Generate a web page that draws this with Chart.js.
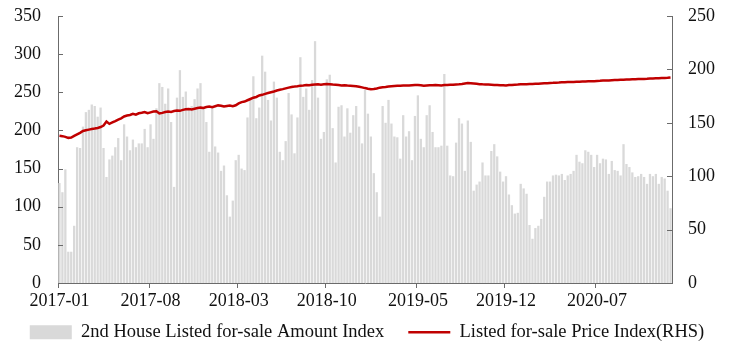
<!DOCTYPE html>
<html>
<head>
<meta charset="utf-8">
<script src="https://cdn.jsdelivr.net/npm/chart.js@4.4.1/dist/chart.umd.min.js"></script>
<style>
  body { margin: 0; background: #fff; }
</style>
</head>
<body>
<canvas id="listing_chart" width="734" height="351"></canvas>
<script>
// weekly series, first week 2017-01-02
const startDate = '2017-01-02';

const amountIndex = [
  131, 119, 149, 41, 41, 75, 178, 177, 205, 224, 227, 234, 232, 218, 230, 177, 139, 162, 167, 178,
  190, 161, 208, 192, 174, 188, 178, 183, 183, 202, 178, 208, 189, 229, 262, 257, 235, 255, 211, 126,
  243, 279, 244, 251, 229, 232, 241, 255, 262, 229, 211, 172, 229, 179, 171, 147, 154, 115, 87, 108,
  161, 168, 150, 148, 217,
  240, 271, 216, 230, 298, 277, 240, 213, 264, 243, 172, 161, 186, 249, 221, 170, 217, 296, 244, 255,
  227, 266, 317, 243, 189, 198, 267, 273, 203, 158, 231, 233, 192, 229, 197, 220, 232, 205, 183, 253,
  222, 192, 144, 119, 87, 232, 210, 240, 209, 192, 191, 163, 220, 192, 199, 161, 219, 246, 189, 178,
  220, 233, 198, 178, 178, 180, 274, 180, 141, 140, 184, 216, 209, 147, 213, 185, 121, 129, 133, 158,
  141, 141,
  173, 182, 166, 146, 133, 140, 116, 102, 91, 92, 130, 124, 117, 76, 58, 72, 75, 84, 113, 133,
  133, 141, 142, 141, 143, 135, 141, 143, 147, 168, 159, 157, 174, 172, 168, 152, 168, 157, 163, 162,
  143, 160, 148, 147, 141, 182, 156, 152, 145, 139, 140, 143, 139, 130, 143, 140, 143, 130, 139, 137,
  121, 98
];

const priceIndex = [
  137.9, 137.5, 136.8, 135.9, 136.2, 137.8, 139.2, 140.6, 142.3, 143.0,
  143.6, 144.1, 144.6, 145.2, 146.0, 147.4, 151.2, 149.0, 150.3, 151.6,
  153.0, 154.2, 155.9, 156.8, 157.3, 158.4, 157.6, 158.9, 159.4, 160.1,
  159.0, 159.8, 160.5, 160.8, 158.7, 159.3, 160.1, 160.6, 160.2, 161.0,
  161.5, 161.2, 162.1, 162.6, 163.0, 162.5, 163.2, 163.8, 164.2, 163.9,
  164.8, 165.2, 164.6, 165.5, 166.3, 166.0, 165.2, 165.8, 166.1, 165.6,
  166.4, 168.2, 169.4, 169.9, 171.1, 172.3, 173.5, 174.2, 175.6, 176.2,
  177.1, 177.9, 178.6, 179.3, 180.2, 180.9, 181.5, 182.2, 182.9, 183.6,
  183.9, 184.3, 184.8, 185.0, 185.3, 185.1, 185.6, 185.8, 186.0, 185.7,
  186.1, 186.4, 186.2, 185.8, 185.6, 185.3, 185.0, 185.2, 184.9, 184.7,
  184.5, 184.3, 183.8, 183.2, 182.5, 181.9, 181.4, 181.6, 182.2, 182.9,
  183.2, 183.5, 183.9, 184.2, 184.4, 184.6, 184.8, 185.0, 184.9, 185.0,
  185.2, 185.4, 185.3, 185.1, 184.8, 185.0, 185.2, 185.1, 185.3, 185.2,
  185.0, 185.3, 185.5, 185.7, 185.6, 185.9, 186.1, 186.4, 186.8, 187.2,
  187.1, 186.8, 186.5, 186.2, 186.0, 185.9, 185.8, 185.7, 185.5, 185.4,
  185.2, 185.1, 185.0, 185.3, 185.5, 185.7, 185.8, 186.0, 186.1, 186.2,
  186.3, 186.4, 186.5, 186.6, 186.8, 187.0, 187.1, 187.3, 187.4, 187.6,
  187.7, 187.9, 188.0, 188.1, 188.2, 188.3, 188.4, 188.5, 188.6, 188.7,
  188.8, 188.9, 189.0, 189.2, 189.3, 189.5, 189.6, 189.7, 189.9, 190.0,
  190.1, 190.2, 190.3, 190.5, 190.6, 190.7, 190.8, 190.9, 191.0, 191.1,
  191.2, 191.4, 191.5, 191.6, 191.7, 191.9, 192.0, 192.2, 192.5
];

const leftTicks = { min: 0, max: 350, step: 50 };
const rightTicks = { min: 0, max: 250, step: 50 };
const labelEveryMonths = 7;

// week dates for the category axis
const weeks = [];
const d0 = new Date(startDate + 'T00:00:00Z');
for (let i = 0; i < amountIndex.length; i++) {
  weeks.push(new Date(d0.getTime() + i * 7 * 86400000));
}
const weekLabels = weeks.map(d => d.toISOString().slice(0, 10));

const monthTick = (i) => {
  const d = weeks[i];
  if (!d) return '';
  const m = (d.getUTCFullYear() - 2017) * 12 + d.getUTCMonth();
  const prev = weeks[i - 1];
  const newMonth = !prev || prev.getUTCMonth() !== d.getUTCMonth();
  if (newMonth && m % labelEveryMonths === 0) return weekLabels[i].slice(0, 7);
  return '';
};

const axisColor = '#6b6b6b';
Chart.defaults.font.family = '"Liberation Serif", "Times New Roman", serif';
Chart.defaults.font.size = 18;
Chart.defaults.color = '#111';

// y axis tick marks point into the plot
const innerTicks = {
  id: 'innerTicks',
  afterDatasetsDraw(chart) {
    const ctx = chart.ctx;
    ctx.save();
    ctx.strokeStyle = axisColor;
    ctx.lineWidth = 1;
    ['y', 'y1'].forEach(id => {
      const s = chart.scales[id];
      const x = id === 'y' ? s.right : s.left;
      const dir = id === 'y' ? 1 : -1;
      s.ticks.forEach(t => {
        const py = Math.round(s.getPixelForValue(t.value)) + 0.5;
        ctx.beginPath();
        ctx.moveTo(x, py);
        ctx.lineTo(x + dir * 5, py);
        ctx.stroke();
      });
    });
    ctx.restore();
  }
};

// legend sits a bit higher than its layout box
const legendPlace = {
  id: 'legendPlace',
  beforeInit(chart) {
    const fit = chart.legend.fit;
    chart.legend.fit = function () {
      fit.bind(chart.legend)();
      this.height = 38;
    };
  },
  beforeDraw(chart) {
    const lg = chart.legend;
    lg.top = 299;
    lg.bottom = chart.height;
  }
};

// fixed axis widths, no extra label padding above/below the plot
const fitY = (w) => (s) => {
  s.width = w;
  s.paddingTop = 0;
  s.paddingBottom = 0;
};

new Chart('listing_chart', {
  data: {
    labels: weekLabels,
    datasets: [
      {
        type: 'bar',
        label: '2nd House Listed for-sale Amount Index',
        data: amountIndex,
        backgroundColor: '#d9d9d9',
        borderWidth: 0,
        barPercentage: 0.78,
        categoryPercentage: 1,
        yAxisID: 'y',
        order: 2,
      },
      {
        type: 'line',
        label: 'Listed for-sale Price Index(RHS)',
        data: priceIndex,
        borderColor: '#c00000',
        backgroundColor: '#c00000',
        borderWidth: 2.5,
        pointRadius: 0,
        tension: 0,
        yAxisID: 'y1',
        order: 1,
      },
    ],
  },
  options: {
    responsive: false,
    animation: false,
    layout: { padding: { top: 16, left: 0, right: 0, bottom: 0 } },
    scales: {
      x: {
        offset: true,
        grid: {
          offset: true,
          drawOnChartArea: false,
          tickLength: 5,
          tickColor: (c) => (monthTick(c.index) ? axisColor : 'rgba(0,0,0,0)'),
        },
        border: { color: axisColor, width: 1 },
        ticks: {
          autoSkip: false,
          maxRotation: 0,
          minRotation: 0,
          padding: 2,
          callback: (v, i) => monthTick(i),
        },
        afterFit: (s) => { s.height = 30; },
      },
      y: {
        position: 'left',
        min: leftTicks.min,
        max: leftTicks.max,
        grid: { display: false, drawTicks: false },
        border: { color: axisColor, width: 1 },
        ticks: { stepSize: leftTicks.step, padding: 17 },
        afterFit: fitY(58),
      },
      y1: {
        position: 'right',
        min: rightTicks.min,
        max: rightTicks.max,
        grid: { display: false, drawTicks: false },
        border: { color: axisColor, width: 1 },
        ticks: { stepSize: rightTicks.step, padding: 16 },
        afterFit: fitY(62),
      },
    },
    plugins: {
      legend: {
        position: 'bottom',
        labels: {
          font: { size: 18.5 },
          usePointStyle: true,
          pointStyleWidth: 42,
          boxHeight: 14,
          padding: 24,
          sort: (a, b) => a.datasetIndex - b.datasetIndex,
          generateLabels: (chart) => {
            const items = Chart.defaults.plugins.legend.labels.generateLabels(chart);
            items.forEach(it => {
              it.pointStyle = it.datasetIndex === 0 ? 'rect' : 'line';
              if (it.datasetIndex === 0) it.lineWidth = 0;
            });
            return items;
          },
        },
      },
      tooltip: { enabled: false },
    },
  },
  plugins: [innerTicks, legendPlace],
});
</script>
</body>
</html>
